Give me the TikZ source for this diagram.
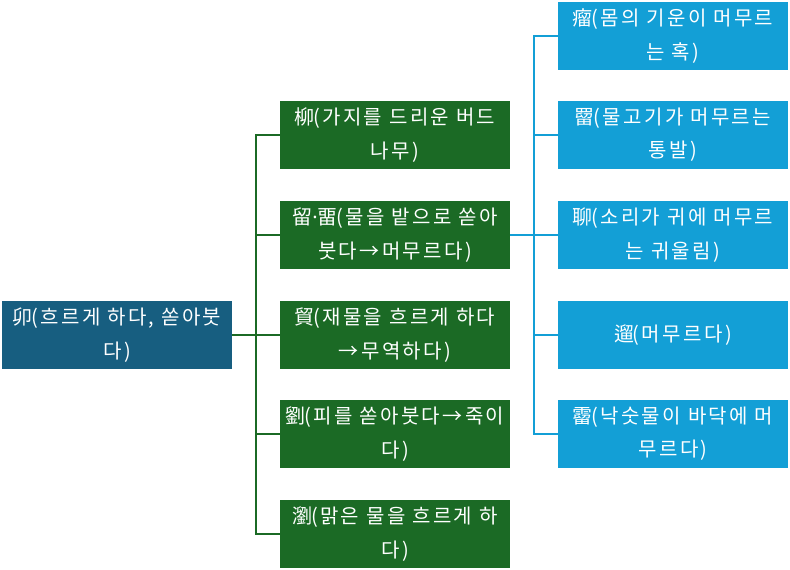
\documentclass[tikz,border=0pt]{standalone}
\usepackage{fontspec}
\newfontfamily\kr[LetterSpace=12]{Noto Sans CJK KR}
\newfontfamily\lat{Noto Sans}
\newcommand\hj[1]{#1\kern-0.07em}
\definecolor{rootc}{RGB}{23,94,128}
\definecolor{greenc}{RGB}{27,106,37}
\definecolor{bluec}{RGB}{19,159,214}
\tikzset{
  box/.style={rectangle, minimum width=172.5pt, minimum height=51pt, inner sep=0pt,
    text=white, align=center, font=\kr\fontsize{15}{25}\selectfont},
  rootbox/.style={box, fill=rootc},
  gbox/.style={box, fill=greenc},
  bbox/.style={box, fill=bluec},
  gline/.style={draw=greenc, line width=1.5pt},
  bline/.style={draw=bluec, line width=1.5pt}
}
\begin{document}
\begin{tikzpicture}[x=0.75pt,y=-0.75pt]
\useasboundingbox (0,0) rectangle (790,570);
\node[rootbox] (root) at (117,335) {\hj{卯}(흐르게 하다, 쏟아붓\\다)};
\node[gbox] (g1) at (395,135) {\hj{柳}(가지를 드리운 버드\\나무)};
\node[gbox] (g2) at (395,235) {留{\lat ·}\hj{畱}(물을 밭으로 쏟아\\붓다→머무르다)};
\node[gbox] (g3) at (395,335) {\hj{貿}(재물을 흐르게 하다\\→무역하다)};
\node[gbox] (g4) at (395,434) {\hj{劉}(피를 쏟아붓다→죽이\\다)};
\node[gbox] (g5) at (395,534) {\hj{瀏}(맑은 물을 흐르게 하\\다)};
\node[bbox] (b1) at (673,36) {\hj{瘤}(몸의 기운이 머무르\\는 혹)};
\node[bbox] (b2) at (673,135) {\hj{罶}(물고기가 머무르는\\통발)};
\node[bbox] (b3) at (673,235) {\hj{聊}(소리가 귀에 머무르\\는 귀울림)};
\node[bbox] (b4) at (673,335) {\hj{遛}(머무르다)};
\node[bbox] (b5) at (673,434) {\hj{霤}(낙숫물이 바닥에 머\\무르다)};
\coordinate (gj) at (256,335);
\coordinate (bj) at (534,235);
\draw[gline] (root.east) -- (gj);
\foreach \n in {g1,g2,g3,g4,g5} \draw[gline] (gj) |- (\n.west);
\draw[bline] (g2.east) -- (bj);
\foreach \n in {b1,b2,b3,b4,b5} \draw[bline] (bj) |- (\n.west);
\end{tikzpicture}
\end{document}
